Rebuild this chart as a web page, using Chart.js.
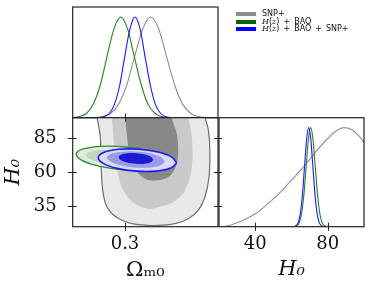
<!DOCTYPE html>
<html>
<head>
<meta charset="utf-8">
<script src="https://cdn.jsdelivr.net/npm/chart.js@4.4.0/dist/chart.umd.min.js"></script>
<style>
  body { margin: 0; background: #fff; }
  #wrap { position: relative; width: 374px; height: 291px; }
  canvas { position: absolute; left: 0; top: 0; }
  #legend { position: absolute; left: 236px; top: 10px; font: 8px 'DejaVu Sans', sans-serif; color: #111; }
  .row { position: absolute; left: 0; height: 8px; white-space: nowrap; }
  .sw { position: absolute; left: 0; top: 2px; width: 20px; height: 4px; }
  .lb { position: absolute; left: 26px; top: -1px; line-height: 9px; }
  .lb i { font-family: 'DejaVu Serif', serif; }
</style>
</head>
<body>
<div id="wrap">
  <canvas id="omegaChart" width="374" height="291"></canvas>
  <canvas id="contourChart" width="374" height="291"></canvas>
  <canvas id="h0Chart" width="374" height="291"></canvas>
  <div id="legend"></div>
</div>
<script>
// axis limits and ticks
const omegaRange = [0.12, 0.62];
const h0Range = [20, 100];
const omegaTicks = [0.3];
const h0Ticks = [35, 60, 85];
const h0Ticks1d = [40, 80];

const seriesNames = ['SNP+', 'H(z) + BAO', 'H(z) + BAO + SNP+'];
const seriesColors = ['#8c8c8c', '#006400', '#0000ff'];

// 1D posteriors of Omega_m0  [omega, P/Pmax]
const snpOmega = [[0.196,0.002],[0.223,0.011],[0.251,0.044],[0.278,0.135],[0.306,0.325],[0.333,0.607],[0.361,0.882],[0.388,1],[0.416,0.882],[0.443,0.607],[0.471,0.325],[0.498,0.135],[0.526,0.044],[0.553,0.011],[0.581,0.002]];
const hzOmega = [[0.121,0.002],[0.144,0.011],[0.168,0.044],[0.191,0.135],[0.215,0.325],[0.238,0.607],[0.262,0.882],[0.285,1],[0.309,0.882],[0.332,0.607],[0.356,0.325],[0.379,0.135],[0.403,0.044],[0.426,0.011],[0.450,0.002]];
const allOmega = [[0.212,0.002],[0.229,0.011],[0.247,0.044],[0.264,0.135],[0.282,0.325],[0.299,0.607],[0.317,0.882],[0.334,1],[0.352,0.882],[0.369,0.607],[0.387,0.325],[0.404,0.135],[0.422,0.044],[0.439,0.011],[0.457,0.002]];

// 1D posteriors of H0  [H0, P/Pmax]
const snpH0 = [[20,0],[25,0.01],[30,0.04],[35,0.08],[40,0.13],[45,0.2],[50,0.28],[55,0.37],[60,0.47],[65,0.57],[70,0.68],[75,0.79],[80,0.89],[85,0.97],[89,1],[93,0.98],[97,0.92],[100,0.85]];
const hzH0 = [[61.85,0.002],[63.1,0.011],[64.35,0.044],[65.6,0.135],[66.85,0.325],[68.1,0.607],[69.35,0.882],[70.6,1],[71.85,0.882],[73.1,0.607],[74.35,0.325],[75.6,0.135],[76.85,0.044],[78.1,0.011],[79.35,0.002]];
const allH0 = [[61.45,0.002],[62.6,0.011],[63.75,0.044],[64.9,0.135],[66.05,0.325],[67.2,0.607],[68.35,0.882],[69.5,1],[70.65,0.882],[71.8,0.607],[72.95,0.325],[74.1,0.135],[75.25,0.044],[76.4,0.011],[77.55,0.002]];

// 2D contours  [omega, H0]
const snpOuter = [[0.203,106],[0.204,100.5],[0.215,85.8],[0.218,63.8],[0.221,51.6],[0.227,41.8],[0.238,34.5],[0.261,28.4],[0.290,24.7],[0.324,22.2],[0.376,21.0],[0.415,21.0],[0.472,22.2],[0.518,25.9],[0.552,32.0],[0.575,41.8],[0.589,56.5],[0.592,76.1],[0.587,90.7],[0.575,100.5],[0.570,106]];
const snpMid = [[0.254,106],[0.255,100.5],[0.265,76.1],[0.278,56.5],[0.301,44.2],[0.335,36.9],[0.376,33.2],[0.392,33.2],[0.438,35.7],[0.483,40.6],[0.512,49.1],[0.530,63.8],[0.530,85.8],[0.518,100.5],[0.516,106]];
const snpInner = [[0.298,106],[0.301,100],[0.307,85.8],[0.314,76.3],[0.327,65.3],[0.352,57.9],[0.379,54.3],[0.403,53.9],[0.437,55.2],[0.461,58.9],[0.478,66.2],[0.483,76.1],[0.478,88.3],[0.461,100],[0.458,106]];
const hzOuter = [[0.461,66.8],[0.437,63.0],[0.376,61.1],[0.293,61.7],[0.211,64.4],[0.152,68.7],[0.132,73.4],[0.156,77.1],[0.218,79.0],[0.300,78.5],[0.382,75.7],[0.441,71.4]];
const hzInner = [[0.427,67.4],[0.408,64.9],[0.359,63.7],[0.294,64.2],[0.229,66.3],[0.182,69.4],[0.166,72.7],[0.185,75.2],[0.234,76.4],[0.299,75.9],[0.364,73.8],[0.411,70.7]];
const allOuter = [[0.478,66.8],[0.458,63.0],[0.408,60.8],[0.340,60.8],[0.273,62.8],[0.225,66.5],[0.208,70.8],[0.228,74.6],[0.278,76.8],[0.346,76.9],[0.413,74.8],[0.461,71.1]];
const allMid = [[0.437,67.8],[0.423,65.1],[0.386,63.5],[0.336,63.5],[0.286,65.0],[0.251,67.7],[0.238,70.8],[0.253,73.5],[0.290,75.1],[0.340,75.2],[0.389,73.7],[0.425,71.0]];
const allInner = [[0.398,69.2],[0.389,67.3],[0.367,66.2],[0.337,66.2],[0.307,67.1],[0.285,68.9],[0.278,70.9],[0.286,72.8],[0.309,73.9],[0.339,73.9],[0.369,73.0],[0.390,71.2]];

const toXY = arr => arr.map(p => ({x: p[0], y: p[1]}));
const closed = arr => toXY(arr.concat([arr[0]]));

const tickFont = {family: "'DejaVu Serif', serif", size: 18};
const titleFont = {family: "'DejaVu Serif', serif", size: 21};

// box around the plot area plus in/out tick marks
const framePlugin = {
  id: 'frame',
  afterDraw(chart, args, opts) {
    const {ctx, chartArea: a, scales} = chart;
    ctx.save();
    ctx.strokeStyle = '#222';
    ctx.lineWidth = 1.2;
    ctx.strokeRect(a.left, a.top, a.right - a.left, a.bottom - a.top);
    ctx.lineWidth = 1;
    ctx.beginPath();
    (opts.xTicks || []).forEach(v => {
      const px = Math.round(scales.x.getPixelForValue(v)) + 0.5;
      ctx.moveTo(px, a.bottom - 4); ctx.lineTo(px, a.bottom + 4);
      if (opts.top) { ctx.moveTo(px, a.top - 4); ctx.lineTo(px, a.top + 4); }
    });
    (opts.yTicks || []).forEach(v => {
      const py = Math.round(scales.y.getPixelForValue(v)) + 0.5;
      ctx.moveTo(a.left - 5, py); ctx.lineTo(a.left + 4, py);
      if (opts.right) { ctx.moveTo(a.right - 4, py); ctx.lineTo(a.right + 4, py); }
    });
    ctx.stroke();
    ctx.restore();
  }
};

const curve = (data, color, width) => ({
  data: toXY(data), borderColor: color, borderWidth: width, showLine: true,
  pointRadius: 0, fill: false, cubicInterpolationMode: 'monotone'
});

const region = (data, fillColor, lineColor, width, order) => ({
  data: closed(data), backgroundColor: fillColor, borderColor: lineColor,
  borderWidth: width, showLine: true, pointRadius: 0, fill: 'shape', tension: 0.4, order: order
});

const baseOptions = {
  responsive: false,
  animation: false,
  events: [],
  plugins: { legend: { display: false }, tooltip: { enabled: false } }
};

// top: P(Omega_m0)
new Chart(document.getElementById('omegaChart'), {
  type: 'scatter',
  data: { datasets: [
    curve(allOmega, '#1818ff', 1.1),
    curve(hzOmega, '#2a7d2a', 1.1),
    curve(snpOmega, '#8f8f8f', 1.1)
  ]},
  options: {
    ...baseOptions,
    layout: { padding: { left: 72.7, top: 7, right: 156, bottom: 173.3 } },
    scales: {
      x: { display: false, min: omegaRange[0], max: omegaRange[1] },
      y: { display: false, min: 0, max: 1.1 }
    },
    plugins: { ...baseOptions.plugins, frame: { xTicks: omegaTicks } }
  },
  plugins: [framePlugin]
});

// middle: Omega_m0 vs H0 contours
new Chart(document.getElementById('contourChart'), {
  type: 'scatter',
  data: { datasets: [
    region(snpOuter, '#e8e8e8', '#6e6e6e', 1.2, 9),
    region(snpMid, '#c9c9c9', 'rgba(0,0,0,0)', 0, 8),
    region(snpInner, '#888888', 'rgba(0,0,0,0)', 0, 7),
    region(hzOuter, '#dfebdd', '#2e8b2e', 1.3, 6),
    region(hzInner, '#bcd9bc', 'rgba(0,0,0,0)', 0, 5),
    region(allOuter, '#dadaf6', '#1a1aff', 1.6, 4),
    region(allMid, '#9c9ce8', 'rgba(0,0,0,0)', 0, 3),
    region(allInner, '#1c1cd4', 'rgba(0,0,0,0)', 0, 2)
  ]},
  options: {
    ...baseOptions,
    layout: { padding: { left: 0, top: 117.7, right: 156, bottom: 0 } },
    scales: {
      x: {
        min: omegaRange[0], max: omegaRange[1],
        grid: { display: false }, border: { display: false },
        afterBuildTicks: s => { s.ticks = omegaTicks.map(v => ({value: v})); },
        afterFit: s => { s.height = 64.3; },
        ticks: { font: tickFont, color: '#111', padding: -1, callback: v => v.toFixed(1) },
        title: { display: true, text: 'Ωₘ₀', font: titleFont, color: '#111', padding: { top: 0, bottom: 8 } }
      },
      y: {
        min: h0Range[0], max: h0Range[1],
        grid: { display: false }, border: { display: false },
        afterBuildTicks: s => { s.ticks = h0Ticks.map(v => ({value: v})); },
        afterFit: s => { s.width = 72.7; },
        ticks: { font: tickFont, color: '#111', padding: 8 },
        title: { display: true, text: 'H₀', font: { ...titleFont, style: 'italic' }, color: '#111', padding: { top: 1, bottom: 0 } }
      }
    },
    plugins: { ...baseOptions.plugins, frame: { xTicks: omegaTicks, yTicks: h0Ticks, top: true, right: true } }
  },
  plugins: [framePlugin]
});

// right: P(H0)
new Chart(document.getElementById('h0Chart'), {
  type: 'scatter',
  data: { datasets: [
    curve(allH0, '#1818ff', 1.1),
    curve(hzH0, '#2a7d2a', 1.1),
    curve(snpH0, '#8f8f8f', 1.1)
  ]},
  options: {
    ...baseOptions,
    layout: { padding: { left: 219, top: 117.7, right: 10, bottom: 0 } },
    scales: {
      x: {
        min: h0Range[0], max: h0Range[1],
        grid: { display: false }, border: { display: false },
        afterBuildTicks: s => { s.ticks = h0Ticks1d.map(v => ({value: v})); },
        afterFit: s => { s.height = 64.3; },
        ticks: { font: tickFont, color: '#111', padding: -1 },
        title: { display: true, text: 'H₀', font: { ...titleFont, style: 'italic' }, color: '#111', padding: { top: 0, bottom: 9 } }
      },
      y: { display: false, min: 0, max: 1.1 }
    },
    plugins: { ...baseOptions.plugins, frame: { xTicks: h0Ticks1d } }
  },
  plugins: [framePlugin]
});

// legend
const legend = document.getElementById('legend');
seriesNames.forEach((name, i) => {
  const row = document.createElement('div');
  row.className = 'row';
  row.style.top = (i * 7.7) + 'px';
  const label = name.replace('H(z)', '<i>H</i>(<i>z</i>)').replace(/ \+ /g, '&ensp;+&ensp;');
  row.innerHTML = `<span class="sw" style="background:${seriesColors[i]}"></span><span class="lb">${label}</span>`;
  legend.appendChild(row);
});
</script>
</body>
</html>
